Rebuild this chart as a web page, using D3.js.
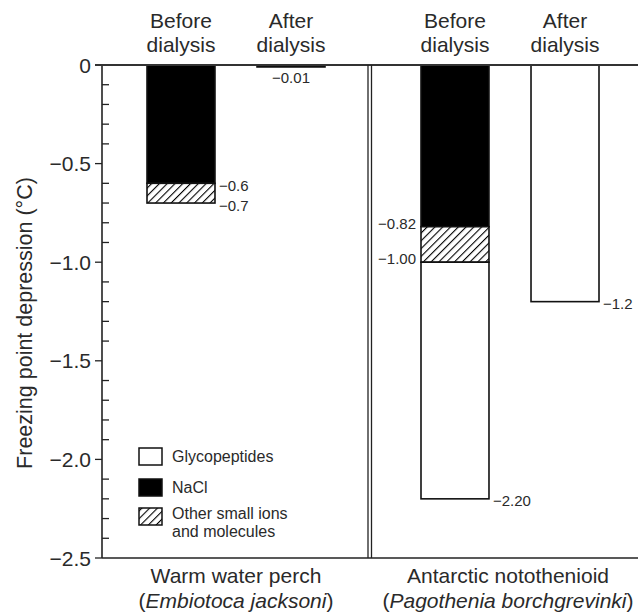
<!DOCTYPE html>
<html><head><meta charset="utf-8">
<script src="https://cdn.jsdelivr.net/npm/d3@7"></script>
<style>body{margin:0;background:#fff}svg{display:block}text{font-family:"Liberation Sans",Arial,sans-serif;fill:#2a2a2a}</style>
</head><body><div id="chart"></div>
<script>
const categories = ["Warm water perch", "Antarctic notothenioid"];
const species = ["Embiotoca jacksoni", "Pagothenia borchgrevinki"];
const conditions = ["Before dialysis", "After dialysis"];
const components = ["Glycopeptides", "NaCl", "Other small ions and molecules"];
// segments: [component, top value, bottom value]
const perchBefore = [["NaCl", 0, -0.6], ["Other", -0.6, -0.7]];
const perchAfter = [["NaCl", 0, -0.01]];
const antBefore = [["NaCl", 0, -0.82], ["Other", -0.82, -1.00], ["Glyco", -1.00, -2.20]];
const antAfter = [["Glyco", 0, -1.2]];
const yTicks = [0, -0.5, -1.0, -1.5, -2.0, -2.5];
const yTickLabels = ["0", "\u22120.5", "\u22121.0", "\u22121.5", "\u22122.0", "\u22122.5"];
const valueLabels = [
  {cat: 0, cond: 1, v: -0.01, text: "\u22120.01", pos: "below"},
  {cat: 0, cond: 0, v: -0.6, text: "\u22120.6", pos: "right"},
  {cat: 0, cond: 0, v: -0.7, text: "\u22120.7", pos: "right"},
  {cat: 1, cond: 0, v: -0.82, text: "\u22120.82", pos: "left"},
  {cat: 1, cond: 0, v: -1.00, text: "\u22121.00", pos: "left"},
  {cat: 1, cond: 1, v: -1.2, text: "\u22121.2", pos: "right"},
  {cat: 1, cond: 0, v: -2.20, text: "\u22122.20", pos: "right"}
];
const bars = [
  {cat: 0, cond: 0, segs: perchBefore},
  {cat: 0, cond: 1, segs: perchAfter},
  {cat: 1, cond: 0, segs: antBefore},
  {cat: 1, cond: 1, segs: antAfter}
];

const W = 638, H = 613;
const mLeft = 102, mRight = 638, mTop = 65, mBottom = 558;
const svg = d3.select("#chart").append("svg").attr("width", W).attr("height", H);

const defs = svg.append("defs");
const pat = defs.append("pattern").attr("id", "hatch").attr("patternUnits", "userSpaceOnUse")
  .attr("width", 5.5).attr("height", 5.5).attr("patternTransform", "rotate(45)");
pat.append("rect").attr("width", 5.5).attr("height", 5.5).attr("fill", "#fff");
pat.append("line").attr("x1", 0).attr("y1", 0).attr("x2", 0).attr("y2", 5.5)
  .attr("stroke", "#000").attr("stroke-width", 2.2);

const y = d3.scaleLinear().domain([0, -2.5]).range([mTop, mBottom]);
const xg = d3.scaleBand().domain(categories).range([mLeft, mRight]);
const xi = d3.scaleBand().domain(conditions).range([45, 223]).paddingInner(0.382);
const groupOffset = [0, 6];
const bx = (cat, cond) => xg(categories[cat]) + groupOffset[cat] + xi(conditions[cond]);
const bw = xi.bandwidth();

const fillOf = {NaCl: "#000", Other: "url(#hatch)", Glyco: "#fff"};

bars.forEach(b => {
  b.segs.forEach(s => {
    svg.append("rect")
      .attr("x", bx(b.cat, b.cond)).attr("width", bw)
      .attr("y", y(s[1])).attr("height", Math.max(y(s[2]) - y(s[1]), 1))
      .attr("fill", fillOf[s[0]])
      .attr("stroke", "#111").attr("stroke-width", 1.6);
  });
});

const ax = svg.append("g").attr("transform", `translate(${mLeft},0)`);
const minorTicks = d3.range(0, 26).map(i => -i / 10).filter(v => Math.abs(v * 2 - Math.round(v * 2)) > 1e-6);
ax.selectAll(".minor").data(minorTicks).enter().append("line")
  .attr("x1", 0).attr("x2", 7).attr("y1", d => y(d)).attr("y2", d => y(d))
  .attr("stroke", "#222").attr("stroke-width", 1.3);
ax.selectAll(".major").data(yTicks).enter().append("line")
  .attr("x1", -7).attr("x2", 0).attr("y1", d => y(d)).attr("y2", d => y(d))
  .attr("stroke", "#222").attr("stroke-width", 1.3);
ax.selectAll(".tl").data(yTicks).enter().append("text")
  .attr("x", -11).attr("y", d => y(d)).attr("dy", "0.36em")
  .attr("text-anchor", "end").attr("font-size", 21)
  .text((d, i) => yTickLabels[i]);
ax.append("line").attr("x1", 0).attr("x2", 0).attr("y1", mTop).attr("y2", mBottom)
  .attr("stroke", "#222").attr("stroke-width", 1.6);

svg.append("line").attr("x1", mLeft - 7).attr("x2", mRight).attr("y1", y(0)).attr("y2", y(0))
  .attr("stroke", "#333").attr("stroke-width", 2.2);
svg.append("line").attr("x1", mLeft).attr("x2", mRight).attr("y1", y(-2.5)).attr("y2", y(-2.5))
  .attr("stroke", "#222").attr("stroke-width", 1.4);
const sep = xg(categories[1]);
[sep - 2, sep + 1.5].forEach(xx => {
  svg.append("line").attr("x1", xx).attr("x2", xx).attr("y1", y(0)).attr("y2", y(-2.5))
    .attr("stroke", "#222").attr("stroke-width", 1.3);
});

svg.append("text").attr("transform", `translate(32,323) rotate(-90)`)
  .attr("text-anchor", "middle").attr("font-size", 21.5)
  .text("Freezing point depression (\u00B0C)");

bars.forEach(b => {
  const cx = bx(b.cat, b.cond) + bw / 2;
  const words = conditions[b.cond].split(" ");
  const t = svg.append("text").attr("text-anchor", "middle").attr("font-size", 21);
  t.append("tspan").attr("x", cx).attr("y", 28).text(words[0]);
  t.append("tspan").attr("x", cx).attr("y", 52).text(words[1]);
});

valueLabels.forEach(l => {
  const x0 = bx(l.cat, l.cond);
  const t = svg.append("text").attr("font-size", 15).text(l.text);
  if (l.pos === "right") t.attr("x", x0 + bw + 4).attr("y", y(l.v)).attr("dy", "0.5em");
  else if (l.pos === "left") t.attr("x", x0 - 5).attr("y", y(l.v)).attr("dy", "0.15em").attr("text-anchor", "end");
  else t.attr("x", x0 + bw / 2).attr("y", y(l.v) + 16).attr("text-anchor", "middle");
});

categories.forEach((c, i) => {
  const cx = xg(c) + xg.bandwidth() / 2 + (i === 0 ? 0 : 4);
  svg.append("text").attr("x", cx).attr("y", 583).attr("text-anchor", "middle").attr("font-size", 21).text(c);
  const t = svg.append("text").attr("x", cx).attr("y", 608).attr("text-anchor", "middle").attr("font-size", 21);
  t.append("tspan").text("(");
  t.append("tspan").attr("font-style", "italic").text(species[i]);
  t.append("tspan").text(")");
});

const lg = svg.append("g").attr("transform", "translate(139,448)");
const legFill = ["#fff", "#000", "url(#hatch)"];
const legY = [0, 31, 60];
components.forEach((c, i) => {
  lg.append("rect").attr("x", 0).attr("y", legY[i]).attr("width", 23).attr("height", 17)
    .attr("fill", legFill[i]).attr("stroke", "#111").attr("stroke-width", 1.5);
  const t = lg.append("text").attr("font-size", 16);
  if (i === 2) {
    t.append("tspan").attr("x", 33).attr("y", legY[i] + 11).text("Other small ions");
    t.append("tspan").attr("x", 33).attr("y", legY[i] + 29).text("and molecules");
  } else {
    t.attr("x", 33).attr("y", legY[i] + 14).text(c);
  }
});
</script></body></html>
